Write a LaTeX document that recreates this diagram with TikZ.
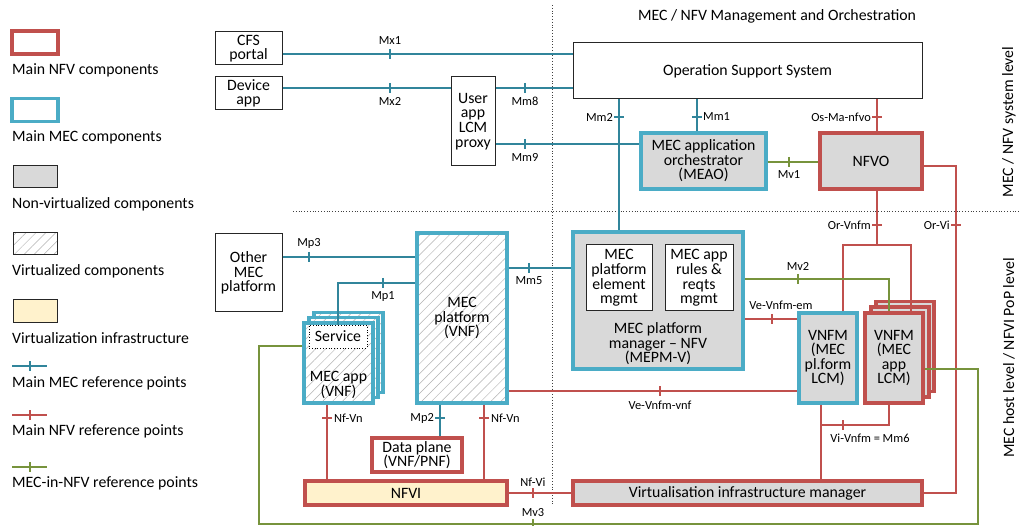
\documentclass[tikz,border=0pt]{standalone}
\usepackage{fontspec}
\setmainfont{Carlito}
\usetikzlibrary{patterns.meta}

\definecolor{nfvred}{RGB}{192,80,77}
\definecolor{mecblue}{RGB}{75,172,198}
\definecolor{mecline}{RGB}{49,133,155}
\definecolor{mvgreen}{RGB}{119,147,60}
\definecolor{boxgray}{RGB}{217,217,217}
\definecolor{infra}{RGB}{255,242,204}

% short perpendicular marks on reference-point lines
\newcommand\vtk[3]{\draw[#1] (#2,#3) ++(0,-5) -- ++(0,10);}
\newcommand\htk[3]{\draw[#1] (#2,#3) ++(-5,0) -- ++(10,0);}

\tikzset{
  txt/.style={font=\fontsize{15.8}{14.6}\selectfont, align=center, inner sep=0pt},
  lbl/.style={font=\fontsize{12.4}{12}\selectfont, inner sep=0pt},
  box/.style={rectangle, inner sep=0pt, align=center, font=\fontsize{15.8}{14.6}\selectfont},
  plainbox/.style={box, draw=black!85, line width=1pt, fill=white},
  nfvbox/.style={box, draw=nfvred, line width=3.4pt},
  mecbox/.style={box, draw=mecblue, line width=3.4pt},
  grayfill/.style={fill=boxgray},
  hatchfill/.style={preaction={fill=white},
    pattern={Lines[angle=45,distance=7pt,line width=0.5pt]}, pattern color=black!30},
  mecref/.style={draw=mecline, line width=1.3pt},
  nfvref/.style={draw=nfvred, line width=1.3pt},
  mvref/.style={draw=mvgreen, line width=1.3pt},
  sep/.style={dotted, draw=black!75, line width=0.8pt},
  joint/.style={fill=nfvred},
}

\begin{document}
\begin{tikzpicture}[x=1pt,y=-1pt]
\useasboundingbox (0,0) rectangle (1019,526);

% ---------------- legend ----------------
\node[nfvbox, minimum width=46pt, minimum height=23pt] (lgnfv) at (35,42.5) {};
\node[txt, anchor=west] (lgnfvt) at (12,70) {Main NFV components};
\node[mecbox, minimum width=46pt, minimum height=23pt] (lgmec) at (35,110) {};
\node[txt, anchor=west] (lgmect) at (12,137) {Main MEC components};
\node[plainbox, grayfill, minimum width=44pt, minimum height=22pt] (lgnv) at (35,177) {};
\node[txt, anchor=west] (lgnvt) at (12,204) {Non-virtualized components};
\node[plainbox, hatchfill, minimum width=44pt, minimum height=22pt] (lgv) at (35,244) {};
\node[txt, anchor=west] (lgvt) at (12,271) {Virtualized components};
\node[plainbox, fill=infra, minimum width=44pt, minimum height=22pt] (lgi) at (35,311) {};
\node[txt, anchor=west] (lgit) at (12,338) {Virtualization infrastructure};
\coordinate (lgm1) at (12,366); \coordinate (lgm2) at (47,366);
\draw[mecref] (lgm1) -- (lgm2); \vtk{mecref}{30}{366}
\node[txt, anchor=west] (lgmrt) at (12,383) {Main MEC reference points};
\coordinate (lgn1) at (12,415); \coordinate (lgn2) at (47,415);
\draw[nfvref] (lgn1) -- (lgn2); \vtk{nfvref}{30}{415}
\node[txt, anchor=west] (lgnrt) at (12,431) {Main NFV reference points};
\coordinate (lgg1) at (12,467); \coordinate (lgg2) at (47,467);
\draw[mvref] (lgg1) -- (lgg2); \vtk{mvref}{30}{467}
\node[txt, anchor=west] (lggrt) at (12,483) {MEC-in-NFV reference points};

% ---------------- level separators and captions ----------------
\draw[sep] (552,5) -- (552,505);
\draw[sep] (293,211) -- (1019,211);
\node[txt] (title) at (777,16) {MEC / NFV Management and Orchestration};
\node[txt, rotate=90] (syslvl) at (1009,122) {MEC / NFV system level};
\node[txt, rotate=90] (hostlvl) at (1009,358) {MEC host level / NFVI PoP level};

% ---------------- system level ----------------
\node[plainbox, minimum width=67pt, minimum height=33pt] (cfs) at (248.5,48.5) {CFS\\portal};
\node[plainbox, minimum width=67pt, minimum height=33pt] (dev) at (248.5,93.5) {Device\\app};
\node[plainbox, minimum width=44pt, minimum height=89pt] (proxy) at (473,121.5) {User\\app\\LCM\\proxy};
\node[plainbox, minimum width=349pt, minimum height=56pt] (oss) at (747.5,71) {Operation Support System};
\node[mecbox, grayfill, minimum width=125pt, minimum height=56pt] (meao) at (703.5,161) {MEC application\\orchestrator\\(MEAO)};
\node[nfvbox, grayfill, minimum width=102pt, minimum height=56pt] (nfvo) at (871,161) {NFVO};

% ---------------- host level ----------------
\node[plainbox, minimum width=67pt, minimum height=78pt] (other) at (248.5,273) {Other\\MEC\\platform};
\node[mecbox, hatchfill, minimum width=90pt, minimum height=170pt] (mecp) at (462,318) {MEC\\platform\\(VNF)};
\node[mecbox, hatchfill, minimum width=69pt, minimum height=80pt] (appb2) at (348.5,352.5) {};
\node[mecbox, hatchfill, minimum width=69pt, minimum height=80pt] (appb1) at (343.5,357.5) {};
\node[mecbox, hatchfill, minimum width=69pt, minimum height=80pt] (app) at (338.5,363) {};
\node[box, draw=black, dotted, line width=0.8pt, fill=white, minimum width=58pt, minimum height=23pt] (svc) at (338,336.5) {Service};
\node[txt] (apptxt) at (338.5,385) {MEC app\\(VNF)};
\node[nfvbox, fill=white, minimum width=90pt, minimum height=34pt] (dp) at (417,455) {Data plane\\(VNF/PNF)};
\node[nfvbox, fill=infra, minimum width=202pt, minimum height=24pt] (nfvi) at (406,493) {NFVI};

\node[mecbox, grayfill, minimum width=170pt, minimum height=137pt] (mepm) at (658,300.5) {};
\node[plainbox, minimum width=66pt, minimum height=66pt] (pem) at (619,278) {MEC\\platform\\element\\mgmt};
\node[plainbox, minimum width=68pt, minimum height=66pt] (rules) at (699,278) {MEC app\\rules \&\\reqts\\mgmt};
\node[txt] (mepmtxt) at (658,344) {MEC platform\\manager – NFV\\(MEPM-V)};

\node[mecbox, grayfill, minimum width=58pt, minimum height=90pt] (vnfmp) at (828,358) {VNFM\\(MEC\\pl.form\\LCM)};
\node[nfvbox, grayfill, minimum width=58pt, minimum height=90pt] (vnfmb2) at (905,346.5) {};
\node[nfvbox, grayfill, minimum width=58pt, minimum height=90pt] (vnfmb1) at (900,352) {};
\node[nfvbox, grayfill, minimum width=58pt, minimum height=90pt] (vnfma) at (894,358) {VNFM\\(MEC\\app\\LCM)};
\node[nfvbox, grayfill, minimum width=349pt, minimum height=24pt] (vim) at (747.5,493) {Virtualisation infrastructure manager};

% ---------------- MEC reference points ----------------
\coordinate (ymx1) at (0,54);
\draw[mecref] (cfs.east |- ymx1) -- (oss.west |- ymx1);
\vtk{mecref}{390}{54} \node[lbl] (lmx1) at (390,41) {Mx1};

\coordinate (ymx2) at (0,88);
\draw[mecref] (dev.east |- ymx2) -- (proxy.west |- ymx2);
\vtk{mecref}{390}{88} \node[lbl] (lmx2) at (390,101) {Mx2};
\draw[mecref] (proxy.east |- ymx2) -- (oss.west |- ymx2);
\vtk{mecref}{525}{88} \node[lbl] (lmm8) at (525,101) {Mm8};

\coordinate (ymm9) at (0,144);
\draw[mecref] (proxy.east |- ymm9) -- (meao.west |- ymm9);
\vtk{mecref}{525}{144} \node[lbl] (lmm9) at (525,157) {Mm9};

\coordinate (xmm2) at (619,0);
\draw[mecref] (oss.south -| xmm2) -- (mepm.north -| xmm2);
\htk{mecref}{619}{117} \node[lbl, anchor=east] (lmm2) at (613,117) {Mm2};

\coordinate (xmm1) at (697,0);
\draw[mecref] (oss.south -| xmm1) -- (meao.north -| xmm1);
\htk{mecref}{697}{117} \node[lbl, anchor=west] (lmm1) at (703,117) {Mm1};

\coordinate (ymm5) at (0,268);
\draw[mecref] (mecp.east |- ymm5) -- (mepm.west |- ymm5);
\vtk{mecref}{529}{268} \node[lbl] (lmm5) at (529,281) {Mm5};

\coordinate (ymp3) at (0,257);
\draw[mecref] (other.east |- ymp3) -- (mecp.west |- ymp3);
\vtk{mecref}{309}{257} \node[lbl] (lmp3) at (309,243) {Mp3};

\coordinate (mp1c) at (338,283);
\draw[mecref] (mecp.west |- mp1c) -- (mp1c) -- (svc.north);
\vtk{mecref}{383}{283} \node[lbl] (lmp1) at (383,297) {Mp1};

\coordinate (xmp2) at (440,0);
\draw[mecref] (mecp.south -| xmp2) -- (dp.north -| xmp2);
\htk{mecref}{440}{418} \node[lbl, anchor=east] (lmp2) at (434,418) {Mp2};

% ---------------- NFV reference points ----------------
\coordinate (xos) at (877,0);
\draw[nfvref] (oss.south -| xos) -- (nfvo.north -| xos);
\htk{nfvref}{877}{117} \node[lbl, anchor=east] (losma) at (871,117) {Os-Ma-nfvo};

\coordinate (orvi) at (956,166);
\draw[nfvref] (nfvo.east |- orvi) -- (orvi) |- (vim.east);
\fill[joint] ([xshift=-1.7pt]nfvo.east |- orvi) circle (1.9);
\fill[joint] ([xshift=-1.7pt]vim.east) circle (1.9);
\htk{nfvref}{956}{225} \node[lbl, anchor=east] (lorvi) at (950,225) {Or-Vi};

\coordinate (orv) at (877,245);
\coordinate (ovl) at (843,245);
\coordinate (ovr) at (911,245);
\draw[nfvref] (nfvo.south -| orv) -- (orv);
\fill[joint] ([yshift=1.7pt]nfvo.south -| orv) circle (1.9);
\draw[nfvref] (vnfmp.north -| ovl) -- (ovl) -- (ovr) -- (vnfma.north -| ovr);
\htk{nfvref}{877}{225} \node[lbl, anchor=east] (lorvnfm) at (871,225) {Or-Vnfm};

\coordinate (yem) at (0,319);
\draw[nfvref] (mepm.east |- yem) -- (vnfmp.west |- yem);
\vtk{nfvref}{772}{319} \node[lbl] (lem) at (781,305) {Ve-Vnfm-em};

\coordinate (yvnf) at (0,391);
\draw[nfvref] (mecp.east |- yvnf) -- (vnfmp.west |- yvnf);
\vtk{nfvref}{660}{391} \node[lbl] (lvnf) at (660,405) {Ve-Vnfm-vnf};

\coordinate (xnf1) at (327,0);
\draw[nfvref] (app.south -| xnf1) -- (nfvi.north -| xnf1);
\htk{nfvref}{327}{418} \node[lbl, anchor=west] (lnfvn1) at (334,418) {Nf-Vn};

\coordinate (xnf2) at (484,0);
\draw[nfvref] (mecp.south -| xnf2) -- (nfvi.north -| xnf2);
\htk{nfvref}{484}{418} \node[lbl, anchor=west] (lnfvn2) at (491,418) {Nf-Vn};

\draw[nfvref] (nfvi.east) -- (vim.west);
\vtk{nfvref}{533}{493} \node[lbl] (lnfvi) at (533,482) {Nf-Vi};

\coordinate (xvi) at (821,0);
\coordinate (vij) at (821,425);
\coordinate (vir) at (889,425);
\draw[nfvref] (vnfmp.south -| xvi) -- (vim.north -| xvi);
\draw[nfvref] (vnfma.south -| vir) -- (vir) -- (vij);
\vtk{nfvref}{843}{425} \node[lbl] (lvi) at (870,438) {Vi-Vnfm = Mm6};

% ---------------- MEC-in-NFV reference points ----------------
\coordinate (ymv1) at (0,162);
\draw[mvref] (meao.east |- ymv1) -- (nfvo.west |- ymv1);
\vtk{mvref}{789}{162} \node[lbl] (lmv1) at (789,175) {Mv1};

\coordinate (mv2c) at (889,279);
\draw[mvref] (mepm.east |- mv2c) -- (mv2c) -- (vnfma.north -| mv2c);
\vtk{mvref}{798}{279} \node[lbl] (lmv2) at (798,266) {Mv2};

\coordinate (mv3a) at (259,346);
\coordinate (mv3b) at (259,524);
\coordinate (mv3c) at (978,524);
\coordinate (mv3d) at (978,369);
\draw[mvref] (app.west |- mv3a) -- (mv3a) -- (mv3b) -- (mv3c) -- (mv3d) -- (vnfma.east |- mv3d);
\vtk{mvref}{533}{524} \node[lbl] (lmv3) at (533,513) {Mv3};

\end{tikzpicture}
\end{document}
